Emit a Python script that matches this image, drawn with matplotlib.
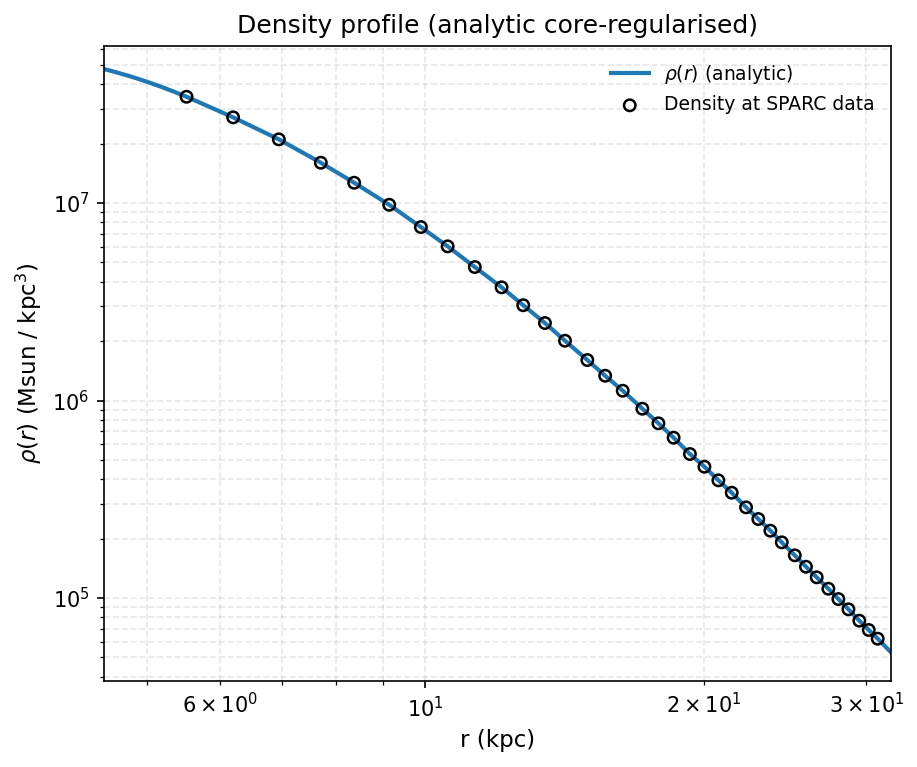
import matplotlib
matplotlib.use("Agg")
import matplotlib.pyplot as plt

# Analytic curve
r_line = [4.49, 4.613, 4.753, 4.884, 5.031, 5.184, 5.355, 5.515, 6.194, 6.941, 7.706,
          8.374, 9.138, 9.888, 10.57, 11.31, 12.09, 12.76, 13.47, 14.16, 14.97, 15.65,
          16.35, 17.17, 17.87, 18.56, 19.33, 20.04, 20.75, 21.45, 22.23, 22.92, 23.62,
          24.30, 25.10, 25.81, 26.51, 27.29, 27.98, 28.69, 29.48, 30.18, 30.86, 31.9]
rho_line = [4.771e7, 4.613e7, 4.432e7, 4.261e7, 4.067e7, 3.869e7, 3.651e7, 3.453e7,
            2.716e7, 2.101e7, 1.600e7, 1.267e7, 9.80e6, 7.556e6, 6.035e6, 4.741e6,
            3.743e6, 3.038e6, 2.468e6, 2.008e6, 1.603e6, 1.335e6, 1.121e6, 9.09e5,
            7.666e5, 6.482e5, 5.359e5, 4.622e5, 3.944e5, 3.413e5, 2.878e5, 2.512e5,
            2.192e5, 1.914e5, 1.645e5, 1.440e5, 1.273e5, 1.114e5, 9.88e4, 8.768e4,
            7.676e4, 6.887e4, 6.222e4, 5.31e4]

# SPARC data points
r_data = [5.515, 6.194, 6.941, 7.706, 8.374, 9.138, 9.888, 10.57, 11.31, 12.09, 12.76,
          13.47, 14.16, 14.97, 15.65, 16.35, 17.17, 17.87, 18.56, 19.33, 20.04, 20.75,
          21.45, 22.23, 22.92, 23.62, 24.30, 25.10, 25.81, 26.51, 27.29, 27.98, 28.69,
          29.48, 30.18, 30.86]
rho_data = [3.453e7, 2.716e7, 2.101e7, 1.600e7, 1.267e7, 9.80e6, 7.556e6, 6.035e6,
            4.741e6, 3.743e6, 3.038e6, 2.468e6, 2.008e6, 1.603e6, 1.335e6, 1.121e6,
            9.09e5, 7.666e5, 6.482e5, 5.359e5, 4.622e5, 3.944e5, 3.413e5, 2.878e5,
            2.512e5, 2.192e5, 1.914e5, 1.645e5, 1.440e5, 1.273e5, 1.114e5, 9.88e4,
            8.768e4, 7.676e4, 6.887e4, 6.222e4]

fig = plt.figure(figsize=(917/150, 767/150), dpi=150)
ax = fig.add_axes([104/917, 1-681/767, (891-104)/917, (681-46)/767])

ax.plot(r_line, rho_line, color="tab:blue", lw=2, label=r"$\rho(r)$ (analytic)", zorder=2)
ax.scatter(r_data, rho_data, s=30, facecolors="none", edgecolors="black",
           linewidths=1.2, label="Density at SPARC data", zorder=3)

ax.set_xscale("log")
ax.set_yscale("log")
ax.set_xlim(4.49, 31.9)
ax.set_ylim(3.80e4, 6.24e7)

ax.grid(True, which="both", ls="--", alpha=0.3)
ax.set_xlabel("r (kpc)", fontsize=11)
ax.set_ylabel(r"$\rho(r)$ (Msun / kpc$^3$)", fontsize=11)
ax.set_title("Density profile (analytic core-regularised)", fontsize=12)
ax.legend(frameon=False, fontsize=9, loc="upper right")

fig.savefig("out.png", dpi=150)
